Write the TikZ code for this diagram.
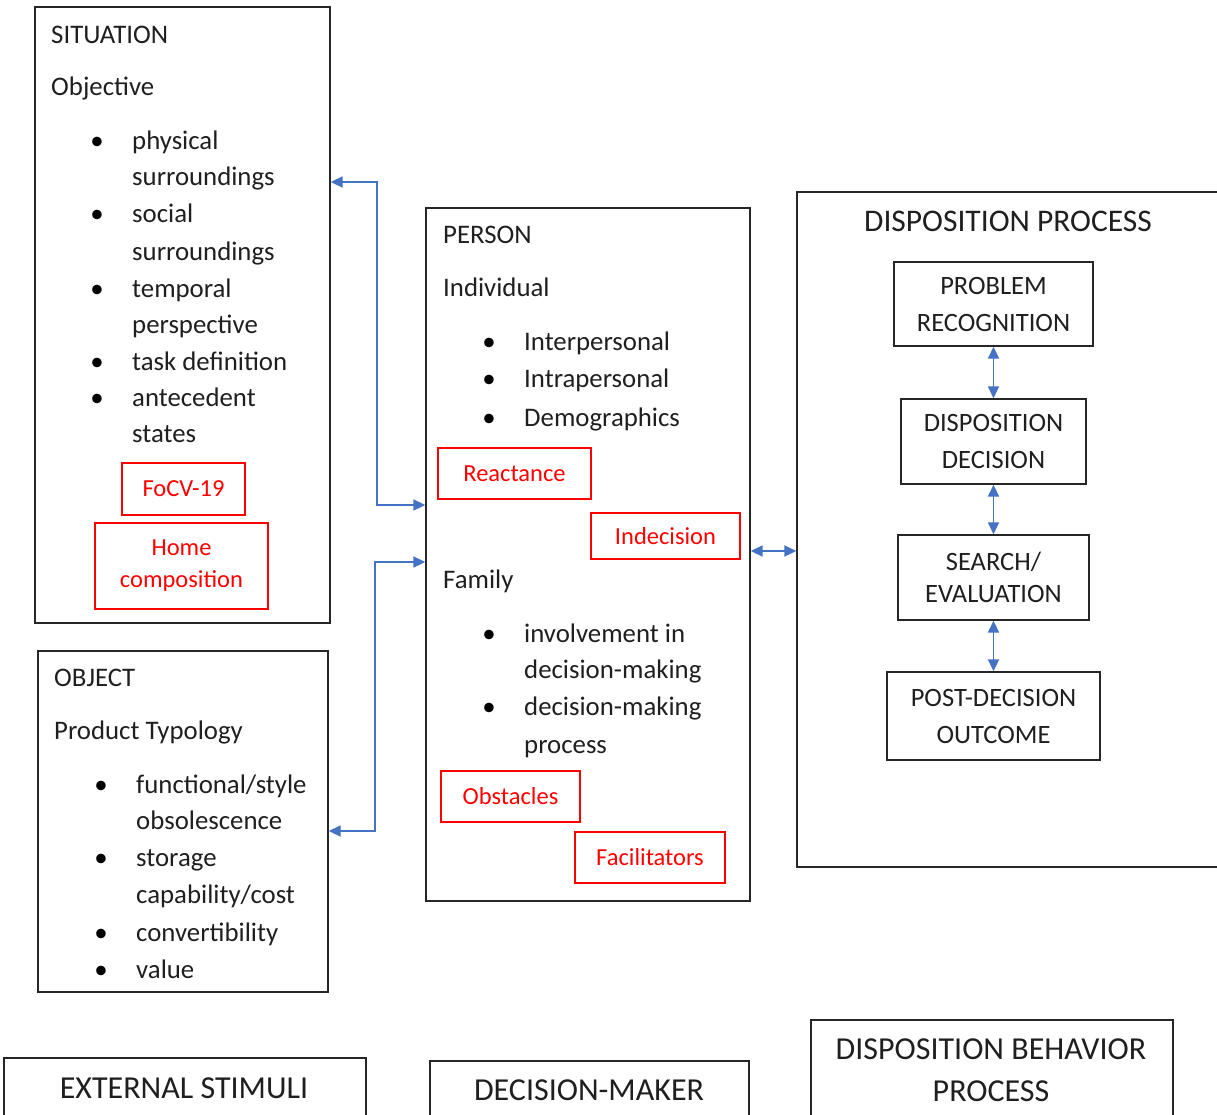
\documentclass[tikz,border=0pt]{standalone}
\usepackage{fontspec}
\setmainfont{Carlito}
\usetikzlibrary{arrows.meta}
\definecolor{conblue}{HTML}{4472C4}
\definecolor{pured}{HTML}{FF0000}
\begin{document}
\begin{tikzpicture}[x=1pt,y=-1pt,
  box/.style={draw=black!85,line width=1.4pt,inner sep=0pt,rectangle},
  redbox/.style={draw=pured,line width=1.4pt,inner sep=0pt,rectangle,text=pured,align=center,font=\fontsize{24.5}{32}\selectfont},
  procbox/.style={draw=black!85,line width=1.4pt,inner sep=0pt,rectangle,align=center,text=black!88},
  txt/.style={anchor=mid west,inner sep=0pt,yshift=-7pt,font=\fontsize{26.8}{32}\selectfont,text=black!88},
  bul/.style={anchor=mid,inner sep=0pt,yshift=-7pt,font=\fontsize{26.8}{32}\selectfont,text=black},
  title/.style={anchor=mid,inner sep=0pt,yshift=-8pt,font=\fontsize{32}{36}\selectfont,text=black!88},
  conn/.style={draw=conblue,line width=1.9pt,{Triangle[length=12pt,width=11pt]}-{Triangle[length=12pt,width=11pt]}}
]
\useasboundingbox (0,0) rectangle (1217,1114);
\clip (0,0) rectangle (1217,1114);

% ---------- SITUATION ----------
\node[box,minimum width=295pt,minimum height=616pt] (sit) at (182.5,315) {};
\node[txt] (sitT) at (51,34) {SITUATION};
\node[txt] (sitO) at (51,86) {Objective};
\foreach \y/\t [count=\i] in {140/physical,176/surroundings,213/social,251/surroundings,288/temporal,324/perspective,361/task definition,397/antecedent,433/states}{
  \node[txt] (sitl\i) at (132,\y) {\t};
}
\foreach \y [count=\i] in {140,213,288,361,397}{
  \node[bul] (sitb\i) at (97,\y) {•};
}
\node[redbox,minimum width=123pt,minimum height=52pt] (focv) at (183.5,489) {FoCV-19};
\node[redbox,minimum width=173pt,minimum height=86pt] (home) at (181.5,566) {Home\\composition};

% ---------- OBJECT ----------
\node[box,minimum width=290pt,minimum height=341pt] (obj) at (183,821.5) {};
\node[txt] (objT) at (54,677) {OBJECT};
\node[txt] (objP) at (54,730) {Product Typology};
\node[txt] (objl1) at (136,784) {functional/style};
\node[txt] (objl2) at (136,820) {obsolescence};
\node[txt] (objl3) at (136,857) {storage};
\node[txt] (objl4) at (136,894) {capability/cost};
\node[txt] (objl5) at (136,932) {convertibility};
\node[txt] (objl6) at (136,969) {value};
\foreach \y [count=\i] in {784,857,932,969}{
  \node[bul] (objb\i) at (101,\y) {•};
}

% ---------- PERSON ----------
\node[box,minimum width=324pt,minimum height=693pt] (per) at (588,554.5) {};
\node[txt] (perT) at (443,234) {PERSON};
\node[txt] (perI) at (443,287) {Individual};
\foreach \y/\t [count=\i] in {341/Interpersonal,378/Intrapersonal,417/Demographics}{
  \node[txt] (perl\i) at (524,\y) {\t};
  \node[bul] (perb\i) at (489,\y) {•};
}
\node[redbox,minimum width=153pt,minimum height=51pt] (react) at (514.5,473.5) {Reactance};
\node[redbox,minimum width=149pt,minimum height=46pt] (indec) at (665.5,536) {Indecision};
\node[txt] (perF) at (443,579) {Family};
\foreach \y/\t [count=\i] in {633/involvement in,669/decision-making,706/decision-making,744/process}{
  \node[txt] (perf\i) at (524,\y) {\t};
}
\node[bul] (perfb1) at (489,633) {•};
\node[bul] (perfb2) at (489,706) {•};
\node[redbox,minimum width=139pt,minimum height=51pt] (obst) at (510.5,796.5) {Obstacles};
\node[redbox,minimum width=150pt,minimum height=51pt] (facil) at (650,857.5) {Facilitators};

% ---------- DISPOSITION PROCESS ----------
\node[box,minimum width=443pt,minimum height=675pt] (dp) at (1018.5,529.5) {};
\node[title,font=\fontsize{31.5}{36}\selectfont] (dpT) at (1008,221) {DISPOSITION PROCESS};
\node[procbox,minimum width=199pt,minimum height=84pt,font=\fontsize{26.5}{37}\selectfont] (pr) at (993.5,304) {PROBLEM\\RECOGNITION};
\node[procbox,minimum width=185pt,minimum height=85pt,font=\fontsize{26.5}{37}\selectfont] (dd) at (993.5,441.5) {DISPOSITION\\DECISION};
\node[procbox,minimum width=191pt,minimum height=85pt,font=\fontsize{26.5}{32}\selectfont] (se) at (993.5,577.5) {SEARCH/\\EVALUATION};
\node[procbox,minimum width=213pt,minimum height=88pt,font=\fontsize{26.5}{37}\selectfont] (pd) at (993.5,716) {POST-DECISION\\OUTCOME};

% ---------- bottom labels ----------
\node[box,minimum width=362pt,minimum height=80pt] (ext) at (185,1098) {};
\node[title] (extT) at (184,1088) {EXTERNAL STIMULI};
\node[box,minimum width=319pt,minimum height=80pt] (dm) at (589.5,1101) {};
\node[title] (dmT) at (589,1090) {DECISION-MAKER};
\node[box,minimum width=362pt,minimum height=130pt] (dbp) at (992,1085) {};
\node[title] (dbpT1) at (991,1049) {DISPOSITION BEHAVIOR};
\node[title] (dbpT2) at (991,1091) {PROCESS};

% ---------- connectors ----------
\draw[conn] (sit.east |- 0,182) -| ([xshift=-48pt]per.west |- 0,505) -- (per.west |- 0,505);
\draw[conn] (obj.east |- 0,831) -| ([xshift=-50pt]per.west |- 0,562) -- (per.west |- 0,562);
\draw[conn] (per.east |- 0,551) -- (dp.west |- 0,551);
\draw[conn] (pr.south) -- (dd.north);
\draw[conn] (dd.south) -- (se.north);
\draw[conn] (se.south) -- (pd.north);
\end{tikzpicture}
\end{document}
